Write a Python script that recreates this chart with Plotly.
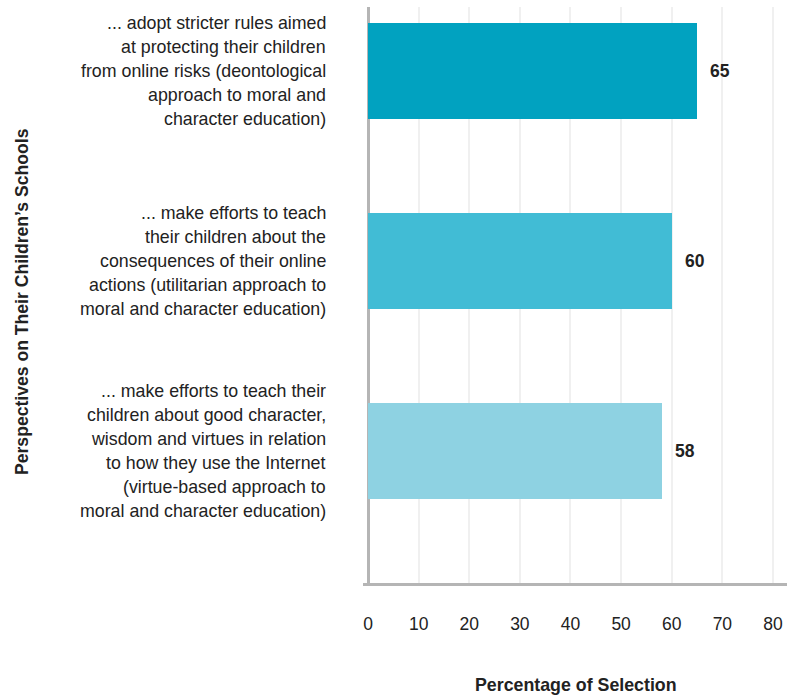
import plotly.graph_objects as go

# Survey responses: what parents want their children's schools to do
categories = [
    "... adopt stricter rules aimed|at protecting their children|from online risks (deontological|approach to moral and|character education)",
    "... make efforts to teach|their children about the|consequences of their online|actions (utilitarian approach to|moral and character education)",
    "... make efforts to teach their|children about good character,|wisdom and virtues in relation|to how they use the Internet|(virtue-based approach to|moral and character education)",
]
values = [65, 60, 58]
bar_colors = ["#01a2c0", "#41bcd5", "#8ed2e2"]
x_ticks = [0, 10, 20, 30, 40, 50, 60, 70, 80]

FONT = "Liberation Sans, Arial, Helvetica, sans-serif"
TEXT = "#222222"
AXIS = "#b5b5b5"

positions = list(range(len(categories)))

fig = go.Figure(
    go.Bar(
        x=values,
        y=positions,
        orientation="h",
        width=0.51,
        marker=dict(color=bar_colors, line=dict(width=0)),
        hoverinfo="skip",
    )
)

annotations = []

# Category labels, right aligned, one annotation per line for even spacing
line_gap = 24
for pos, label in zip(positions, categories):
    lines = label.split("|")
    n = len(lines)
    for k, line in enumerate(lines):
        annotations.append(
            dict(
                x=-0.0825, xref="paper", y=pos, yref="y",
                text=line, showarrow=False,
                xanchor="right", yanchor="middle",
                yshift=((n - 1) / 2 - k) * line_gap,
                font=dict(family=FONT, size=17.8, color=TEXT),
            )
        )

# Value labels at the end of each bar
for pos, v in zip(positions, values):
    annotations.append(
        dict(
            x=v, xref="x", y=pos, yref="y",
            text=f"<b>{v}</b>", showarrow=False,
            xanchor="left", yanchor="middle", xshift=11,
            font=dict(family=FONT, size=17.5, color=TEXT),
        )
    )

# Axis titles
annotations.append(
    dict(
        x=-0.804, xref="paper", y=0.488, yref="paper",
        text="<b>Perspectives on Their Children’s Schools</b>",
        textangle=-90, showarrow=False,
        xanchor="center", yanchor="middle",
        font=dict(family=FONT, size=17.6, color=TEXT),
    )
)
annotations.append(
    dict(
        x=0.5035, xref="paper", y=-0.177, yref="paper",
        text="<b>Percentage of Selection</b>",
        showarrow=False, xanchor="center", yanchor="middle",
        font=dict(family=FONT, size=17.8, color=TEXT),
    )
)

fig.update_layout(
    width=787,
    height=695,
    margin=dict(l=363, r=0, t=7, b=112),
    paper_bgcolor="white",
    plot_bgcolor="white",
    showlegend=False,
    bargap=0,
    annotations=annotations,
    xaxis=dict(
        range=[-0.99, 82.77],
        tickvals=x_ticks,
        ticktext=[str(t) for t in x_ticks],
        showgrid=True,
        gridcolor="#f0f0f0",
        gridwidth=2,
        zeroline=True,
        zerolinecolor=AXIS,
        zerolinewidth=2.5,
        showline=True,
        linecolor=AXIS,
        linewidth=2.5,
        ticks="outside",
        ticklen=23,
        tickcolor="rgba(0,0,0,0)",
        tickfont=dict(family=FONT, size=17.5, color=TEXT),
        fixedrange=True,
    ),
    yaxis=dict(
        range=[2.695, -0.337],
        showticklabels=False,
        showgrid=False,
        zeroline=False,
        showline=False,
        fixedrange=True,
    ),
)

fig.write_html("out.html")
